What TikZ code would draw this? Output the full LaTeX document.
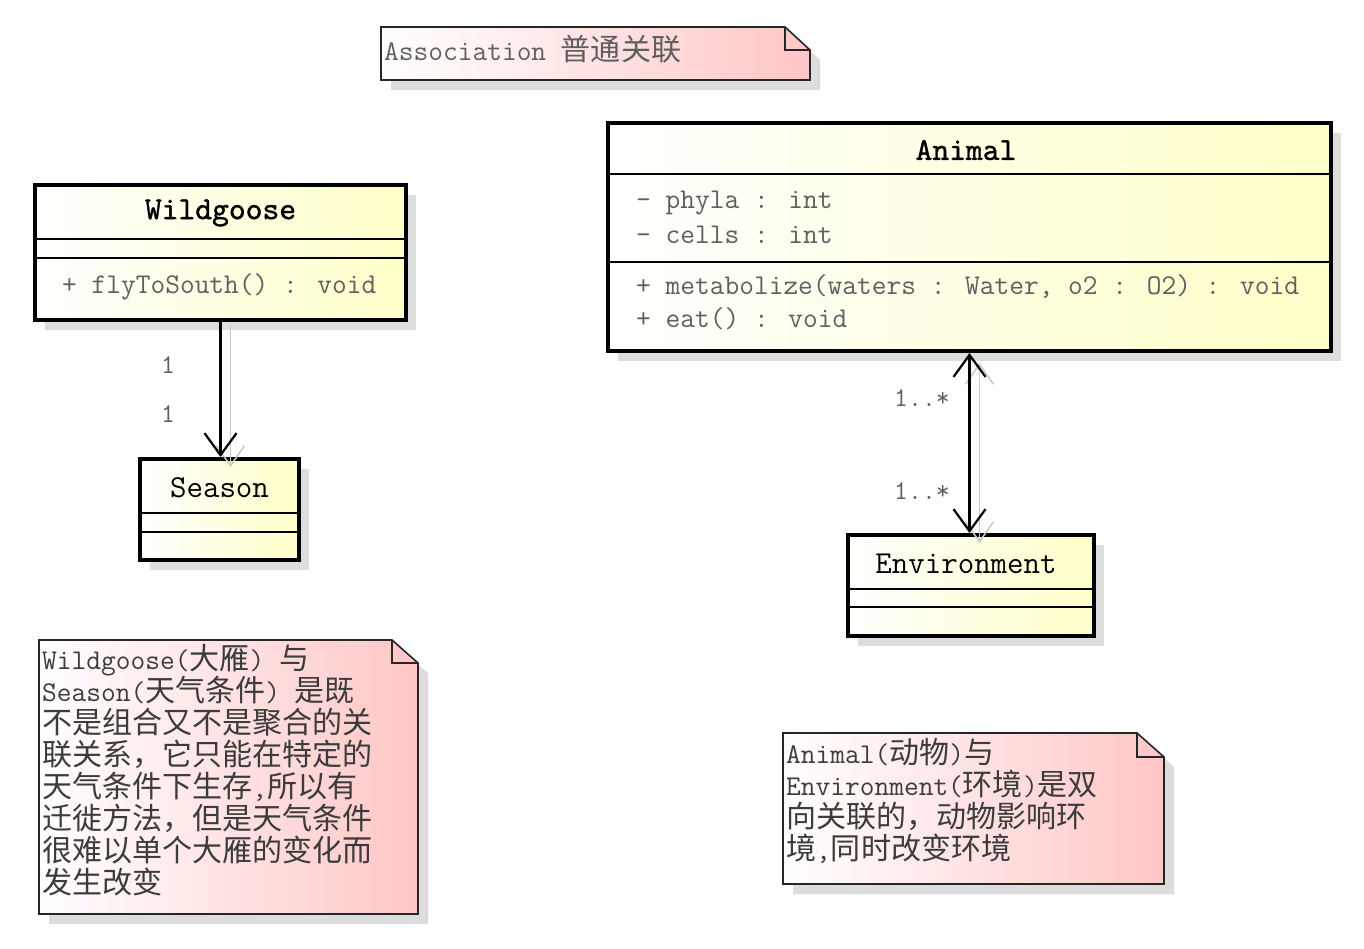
\documentclass[tikz,border=0pt]{standalone}
\usepackage{fontspec}
\newfontfamily\cjk{Noto Sans CJK SC}[Scale=1.05]
\newfontfamily\namefont{lmmono10-regular.otf}[FakeBold=1.2]
\usetikzlibrary{arrows.meta,shadows}
\definecolor{classyellow}{RGB}{255,255,200}
\definecolor{notepink}{RGB}{255,198,198}
\definecolor{shadowgray}{RGB}{221,221,221}
\definecolor{linkshadow}{RGB}{200,200,200}
\definecolor{membergray}{RGB}{95,95,95}
\definecolor{notetext}{RGB}{60,60,60}
\newcommand\zh[1]{{\cjk #1}}
\tikzset{
  classbox/.style={draw=black, line width=4pt, left color=white, right color=classyellow,
    inner sep=0pt, drop shadow={shadow xshift=10pt, shadow yshift=-10pt, fill=shadowgray, opacity=1}},
  cname/.style={font=\fontsize{32}{34}\selectfont\namefont, text=black, inner sep=0pt},
  cnameplain/.style={font=\fontsize{32}{34}\selectfont\ttfamily, text=black, inner sep=0pt},
  member/.style={font=\fontsize{28.6}{32}\selectfont\ttfamily, text=membergray, inner sep=0pt, anchor=west},
  mult/.style={font=\fontsize{27}{30}\selectfont\ttfamily, text=membergray, inner sep=0pt},
  sepline/.style={line width=1.6pt, black},
  assoc/.style={line width=2.2pt, black, -{Straight Barb[length=22pt,width=32pt]}},
  assocboth/.style={line width=2.2pt, black, {Straight Barb[length=22pt,width=32pt]}-{Straight Barb[length=22pt,width=32pt]}},
  shadowline/.style={line width=1.5pt, linkshadow, -{Straight Barb[length=20pt,width=28pt]}},
  shadowboth/.style={line width=1.5pt, linkshadow, {Straight Barb[length=20pt,width=28pt]}-{Straight Barb[length=20pt,width=28pt]}},
  noteshade/.style={left color=white, right color=notepink},
  noteline/.style={line width=1.6pt, black!85, line join=miter},
  notefont/.style={font=\fontsize{28.6}{32}\selectfont\ttfamily, text=notetext, inner sep=0pt, align=left, anchor=north west}
}
\begin{document}
\begin{tikzpicture}[x=1pt,y=-1pt]
\useasboundingbox (0,0) rectangle (1364,948);
\fill[white] (0,0) rectangle (1364,948);

% ---------- title note ----------
\fill[shadowgray] (391,37) -- (795,37) -- (820,60) -- (820,90) -- (391,90) -- cycle;
\shade[noteshade] (381,27) -- (785,27) -- (810,50) -- (810,80) -- (381,80) -- cycle;
\draw[noteline] (381,27) -- (785,27) -- (810,50) -- (810,80) -- (381,80) -- cycle;
\draw[noteline] (785,27) -- (785,50) -- (810,50);
\node[notefont, anchor=west, text=membergray] (title) at (384,49) {Association \zh{普通关联}};

% ---------- classes ----------
\node[classbox, minimum width=371pt, minimum height=135pt] (wild) at (220.5,252.5) {};
\draw[sepline] (wild.west |- 0,239) -- (wild.east |- 0,239);
\draw[sepline] (wild.west |- 0,258) -- (wild.east |- 0,258);
\node[cname] (wildname) at (220.5,213) {Wildgoose};
\node[member] (wildm1) at (62,287) {+ flyToSouth() : void};

\node[classbox, minimum width=159pt, minimum height=101pt] (season) at (219.5,509.5) {};
\draw[sepline] (season.west |- 0,513) -- (season.east |- 0,513);
\draw[sepline] (season.west |- 0,532) -- (season.east |- 0,532);
\node[cnameplain] (seasonname) at (219.5,488) {Season};

\node[classbox, minimum width=723pt, minimum height=228pt] (animal) at (969.5,237) {};
\draw[sepline] (animal.west |- 0,174) -- (animal.east |- 0,174);
\draw[sepline] (animal.west |- 0,262) -- (animal.east |- 0,262);
\node[cname] (animalname) at (966,150) {Animal};
\node[member] (am1) at (636,203) {- phyla : int};
\node[member] (am2) at (636,235) {- cells : int};
\node[member] (am3) at (636,287) {+ metabolize(waters : Water, o2 : O2) : void};
\node[member] (am4) at (636,319) {+ eat() : void};

\node[classbox, minimum width=246pt, minimum height=101pt] (env) at (971,585.5) {};
\draw[sepline] (env.west |- 0,589) -- (env.east |- 0,589);
\draw[sepline] (env.west |- 0,607) -- (env.east |- 0,607);
\node[cnameplain] (envname) at (966,564) {Environment};

% ---------- connectors ----------
\path (wild.south |- season.north) coordinate (wsn);
\draw[shadowline] ([xshift=10pt,yshift=-3pt]wild.south) -- ([xshift=10pt,yshift=-10pt]wsn);
\draw[assoc] (wild.south) -- (wsn);
\node[mult] (m1) at (168,365) {1};
\node[mult] (m2) at (168,414) {1};

\path (animal.south |- env.north) coordinate (aen);
\draw[shadowboth] ([xshift=10pt,yshift=-10pt]animal.south) -- ([xshift=10pt,yshift=-10pt]aen);
\draw[assocboth] (animal.south) -- (aen);
\node[mult] (m3) at (922,398) {1..*};
\node[mult] (m4) at (922,491) {1..*};

% ---------- note 1 ----------
\fill[shadowgray] (49,650) -- (402,650) -- (428,673) -- (428,924) -- (49,924) -- cycle;
\shade[noteshade] (39,640) -- (392,640) -- (418,663) -- (418,914) -- (39,914) -- cycle;
\draw[noteline] (39,640) -- (392,640) -- (418,663) -- (418,914) -- (39,914) -- cycle;
\draw[noteline] (392,640) -- (392,663) -- (418,663);
\node[notefont] (note1) at (42,644) {Wildgoose(\zh{大雁}) \zh{与}\\
Season(\zh{天气条件}) \zh{是既}\\
\zh{不是组合又不是聚合的关}\\
\zh{联关系，它只能在特定的}\\
\zh{天气条件下生存},\zh{所以有}\\
\zh{迁徙方法，但是天气条件}\\
\zh{很难以单个大雁的变化而}\\
\zh{发生改变}};

% ---------- note 2 ----------
\fill[shadowgray] (793,743) -- (1147,743) -- (1174,767) -- (1174,894) -- (793,894) -- cycle;
\shade[noteshade] (783,733) -- (1137,733) -- (1164,757) -- (1164,884) -- (783,884) -- cycle;
\draw[noteline] (783,733) -- (1137,733) -- (1164,757) -- (1164,884) -- (783,884) -- cycle;
\draw[noteline] (1137,733) -- (1137,757) -- (1164,757);
\node[notefont] (note2) at (786,738) {Animal(\zh{动物})\zh{与}\\
Environment(\zh{环境})\zh{是双}\\
\zh{向关联的，动物影响环}\\
\zh{境},\zh{同时改变环境}};
\end{tikzpicture}
\end{document}
